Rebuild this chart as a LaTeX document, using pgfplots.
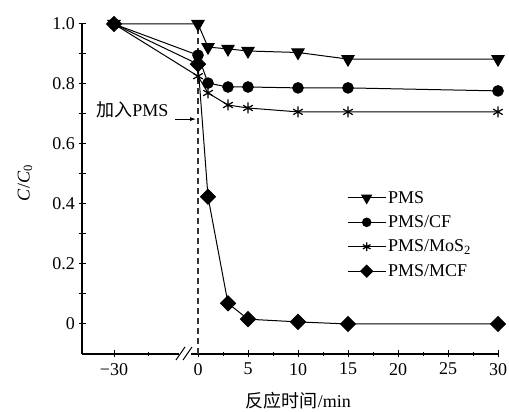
\documentclass[border=0pt]{standalone}
\usepackage{fontspec}
\setmainfont{Liberation Serif}
\newfontfamily\cjk{Noto Sans CJK SC}
\usepackage{pgfplots}
\pgfplotsset{compat=1.18}
\usetikzlibrary{arrows.meta}
\begin{document}
\begin{tikzpicture}[x=1pt,y=1pt]
\useasboundingbox (0,0) rectangle (509,412);
\begin{axis}[
 at={(82pt,58pt)}, anchor=south west,
 scale only axis, width=416pt, height=330pt,
 xmin=-11.6, xmax=30, ymin=-0.1, ymax=1.0,
 axis lines=left, axis line style={-, line width=1.2pt},
 clip=false,
 xtick={-8.4,0,5,10,15,20,25,30},
 xticklabels={−30,0,5,10,15,20,25,30},
 minor xtick={-5,2.5,7.5,12.5,17.5,22.5,27.5},
 ytick={0,0.1,0.2,0.3,0.4,0.5,0.6,0.7,0.8,0.9,1.0},
 yticklabels={0,,0.2,,0.4,,0.6,,0.8,,1.0},
 major tick length=7pt, minor tick length=4pt,
 tick style={line width=1pt, black},
 /pgf/number format/assume math mode=true,
 tick label style={font=\fontsize{18}{20}\selectfont},
 xticklabel style={yshift=-2pt},
 label style={font=\fontsize{18}{20}\selectfont},
 xlabel={{\cjk 反应时间}/min},
 ylabel={\textit{C}/\textit{C}\textsubscript{0}},
 xlabel style={at={(rel axis cs:0.52,0)}, anchor=north, yshift=-35pt},
 ylabel style={at={(rel axis cs:-0.137,0.518)}, anchor=center},
 legend style={at={(rel axis cs:0.637,0.50)}, anchor=north west, draw=none, fill=none,
   font=\fontsize{18}{20}\selectfont, row sep=7pt, inner sep=0pt},
 legend cell align=left,
 legend image code/.code={\draw[mark repeat=2,mark phase=2,#1,every mark/.append style={scale=0.8}] plot coordinates {(0pt,0pt) (19pt,0pt) (38pt,0pt)};},
 every axis plot/.append style={black, line width=1pt},
]
\draw[gray!40!black, line width=1.2pt, dash pattern=on 6pt off 4pt] (axis cs:0,-0.1) -- (axis cs:0,1.0);
\addplot[mark=triangle*, mark size=7pt, mark options={rotate=180, fill=black}] coordinates {
 (-8.4,1.0) (0,1.0) (1,0.923) (3,0.917) (5,0.91) (10,0.905) (15,0.883) (30,0.883)};
\addlegendentry{PMS}
\addplot[mark=*, mark size=5.3pt, mark options={fill=black}] coordinates {
 (-8.4,1.0) (0,0.896) (1,0.803) (3,0.79) (5,0.79) (10,0.787) (15,0.787) (30,0.777)};
\addlegendentry{PMS/CF}
\addplot[mark=asterisk, mark size=5.5pt, mark options={line width=1.2pt}] coordinates {
 (-8.4,1.0) (0,0.826) (1,0.77) (3,0.73) (5,0.72) (10,0.707) (15,0.707) (30,0.707)};
\addlegendentry{PMS/MoS\textsubscript{2}}
\addplot[mark=square*, mark size=5.3pt, mark options={rotate=45, fill=black}] coordinates {
 (-8.4,1.0) (0,0.866) (1,0.424) (3,0.069) (5,0.016) (10,0.007) (15,0.0) (30,0.0)};
\addlegendentry{PMS/MCF}
\node[font=\fontsize{18}{20}\selectfont, inner sep=0pt] at (axis cs:-6.55,0.713) {{\cjk 加入}PMS};
\draw[-{Latex[length=6pt,width=4pt]}, line width=0.8pt] (axis cs:-2.3,0.683) -- (axis cs:-0.2,0.683);
\coordinate (bA) at (axis cs:-2.1,-0.1);
\end{axis}
\fill[white] ([xshift=2pt,yshift=-3pt]bA) rectangle ([xshift=14pt,yshift=3pt]bA);
\draw[line width=1pt] ([xshift=-1pt,yshift=-6pt]bA) -- ([xshift=8pt,yshift=7pt]bA);
\draw[line width=1pt] ([xshift=6pt,yshift=-6pt]bA) -- ([xshift=15pt,yshift=7pt]bA);
\end{tikzpicture}
\end{document}
